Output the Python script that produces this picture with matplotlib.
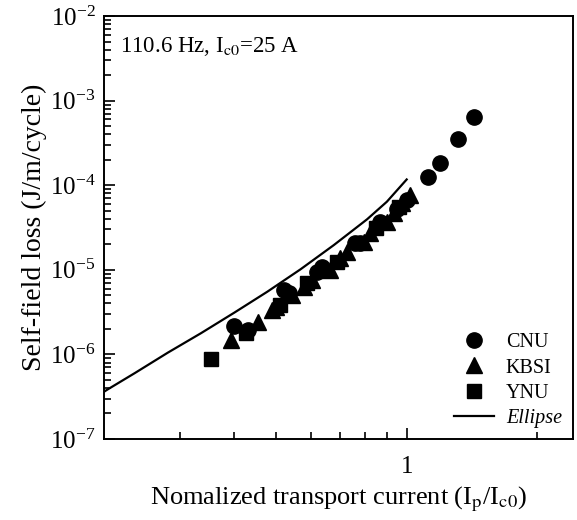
import matplotlib
matplotlib.use("Agg")
import matplotlib.pyplot as plt
from matplotlib.ticker import FixedLocator, FixedFormatter, NullFormatter, LogLocator, LogFormatterSciNotation
from matplotlib.lines import Line2D

plt.rcParams['font.family'] = ['Liberation Serif', 'DejaVu Serif']
plt.rcParams['mathtext.fontset'] = 'stix'

# CNU (circles)
cnu_x = [0.40, 0.43, 0.52, 0.535, 0.62, 0.638, 0.761, 0.78, 0.869, 0.95, 1.0, 1.121, 1.194, 1.313, 1.43]
cnu_y = [2.15e-6, 1.95e-6, 5.8e-6, 5.3e-6, 9.5e-6, 1.09e-5, 2.06e-5, 2.1e-5, 3.7e-5, 5.2e-5, 6.6e-5, 1.25e-4, 1.83e-4, 3.52e-4, 6.4e-4]
# KBSI (triangles)
kbsi_x = [0.393, 0.454, 0.49, 0.50, 0.545, 0.579, 0.605, 0.667, 0.703, 0.729, 0.796, 0.824, 0.9, 0.933, 0.975, 1.019]
kbsi_y = [1.48e-6, 2.44e-6, 3.3e-6, 3.6e-6, 5.0e-6, 6.3e-6, 7.6e-6, 1.0e-5, 1.37e-5, 1.64e-5, 2.15e-5, 2.7e-5, 3.7e-5, 4.66e-5, 6.1e-5, 7.66e-5]
# YNU (squares)
ynu_x = [0.353, 0.425, 0.51, 0.59, 0.69, 0.85, 0.96]
ynu_y = [8.8e-7, 1.8e-6, 3.8e-6, 7.0e-6, 1.25e-5, 3.1e-5, 5.5e-5]
# Ellipse model curve
ell_x = [0.2, 0.2045, 0.2355, 0.281, 0.335, 0.40, 0.477, 0.569, 0.679, 0.81, 0.90, 1.0]
ell_y = [3.6e-7, 3.87e-7, 5.98e-7, 1.047e-6, 1.776e-6, 3.11e-6, 5.51e-6, 1.014e-5, 1.96e-5, 3.95e-5, 6.38e-5, 1.17e-4]

fig = plt.figure(figsize=(5.77, 5.2), dpi=100)
ax = fig.add_axes([0.180, 0.156, 0.813, 0.813])
ax.set_xscale('log')
ax.set_yscale('log')

ms = 11
ax.plot(ell_x, ell_y, '-', color='black', lw=1.6)
ax.plot(ynu_x, ynu_y, 's', color='black', ms=ms - 1.5, ls='none')
ax.plot(kbsi_x, kbsi_y, '^', color='black', ms=ms, ls='none')
ax.plot(cnu_x, cnu_y, 'o', color='black', ms=ms, ls='none')

ax.set_xlim(0.2, 2.42)
ax.set_ylim(1e-7, 1e-2)

ax.xaxis.set_major_locator(FixedLocator([1.0]))
ax.xaxis.set_major_formatter(FixedFormatter(['1']))
ax.xaxis.set_minor_locator(FixedLocator([0.3, 0.4, 0.5, 0.6, 0.7, 0.8, 0.9, 2.0]))
ax.xaxis.set_minor_formatter(NullFormatter())
ax.yaxis.set_major_locator(LogLocator(base=10, numticks=10))
ax.yaxis.set_major_formatter(LogFormatterSciNotation())
ax.yaxis.set_minor_locator(LogLocator(base=10, subs=range(2, 10), numticks=20))
ax.yaxis.set_minor_formatter(NullFormatter())

ax.tick_params(which='both', direction='in', top=False, right=False, labelsize=18, width=1.2)
ax.tick_params(which='major', length=8)
ax.tick_params(which='minor', length=5)
ax.tick_params(axis='x', pad=12)
ax.tick_params(axis='y', pad=6)
for s in ax.spines.values():
    s.set_linewidth(1.4)

ax.set_xlabel('Nomalized transport current (I$_\\mathrm{p}$/I$_\\mathrm{c0}$)', fontsize=19, labelpad=5)
ax.set_ylabel('Self-field loss (J/m/cycle)', fontsize=20, labelpad=2)

ax.text(0.035, 0.955, '110.6 Hz, I$_\\mathrm{c0}$=25 A', transform=ax.transAxes,
        fontsize=16.5, va='top', ha='left')

handles = [
    Line2D([], [], marker='o', color='black', ls='none', ms=ms),
    Line2D([], [], marker='^', color='black', ls='none', ms=ms),
    Line2D([], [], marker='s', color='black', ls='none', ms=ms - 1.5),
    Line2D([], [], color='black', lw=1.6),
]
leg = ax.legend(handles, ['CNU', 'KBSI', 'YNU', 'Ellipse'], loc='lower right',
                frameon=False, fontsize=14.5, handlelength=2.0, labelspacing=0.3,
                handletextpad=0.6, borderaxespad=0.15)
leg.get_texts()[3].set_fontstyle('italic')

fig.savefig('out.png', dpi=100)
